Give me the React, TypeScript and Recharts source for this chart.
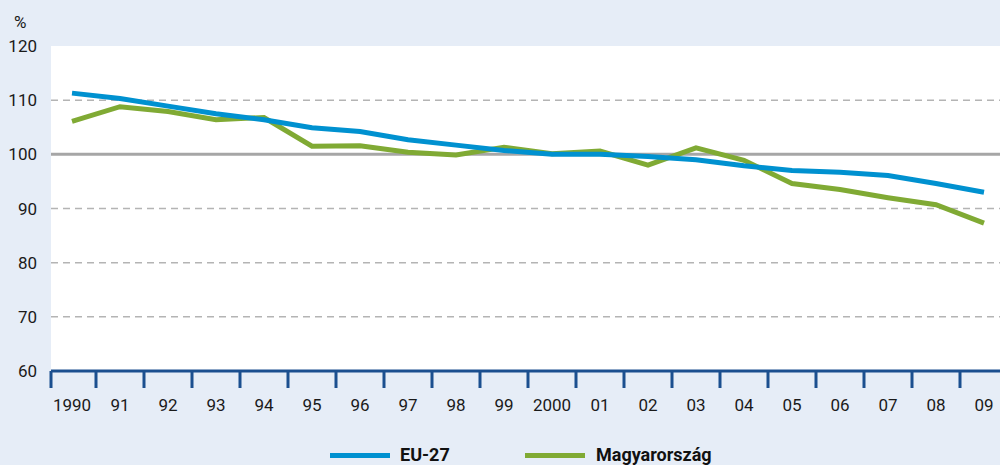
import React from "react";
import {
  LineChart,
  Line,
  XAxis,
  YAxis,
  ReferenceLine,
  ReferenceArea,
  Legend,
} from "recharts";

const years = ["1990", "91", "92", "93", "94", "95", "96", "97", "98", "99", "2000", "01", "02", "03", "04", "05", "06", "07", "08", "09"];
const eu27 = [111.3, 110.3, 108.9, 107.5, 106.4, 104.9, 104.2, 102.7, 101.7, 100.7, 100.0, 100.0, 99.6, 99.0, 97.9, 97.0, 96.7, 96.1, 94.6, 93.0];
const hungary = [106.1, 108.8, 107.9, 106.4, 106.8, 101.5, 101.6, 100.4, 99.9, 101.3, 100.1, 100.6, 98.0, 101.2, 98.9, 94.6, 93.5, 92.0, 90.7, 87.3];
const yTicks = [60, 70, 80, 90, 100, 110, 120];
const dashedLevels = [70, 80, 90, 110];

const data = years.map((y, i) => ({ i, year: y, eu: eu27[i], hu: hungary[i] }));
const labelTicks = years.map((_, i) => i);
const boundaryTicks = years.map((_, i) => i - 0.5);
const allTicks = [...boundaryTicks, ...labelTicks].sort((a, b) => a - b);

const X_START = -0.4375;
const X_END = 19.5;

const FONT = "Roboto, 'Liberation Sans', sans-serif";
const BLUE = "#0091d0";
const GREEN = "#80aa34";
const AXIS = "#1b4f8f";

const XTick = (props: any) => {
  const { x, y, payload } = props;
  const v = payload.value as number;
  if (Math.abs(v - Math.round(v)) > 0.01) {
    const xx = v < 0 ? x + 3 : x;
    return <line x1={xx} x2={xx} y1={y} y2={y + 17} stroke={AXIS} strokeWidth={3} />;
  }
  return (
    <text x={x} y={y + 40} textAnchor="middle" fontFamily={FONT} fontSize={17} fill="#1a1a1a">
      {years[Math.round(v)]}
    </text>
  );
};

const YTick = (props: any) => {
  const { y, payload } = props;
  return (
    <text x={37} y={y + 6} textAnchor="end" fontFamily={FONT} fontSize={17} fill="#1a1a1a">
      {payload.value}
    </text>
  );
};

const LegendContent = () => (
  <div style={{ position: "relative", width: 1000, height: 30, fontFamily: FONT }}>
    <div style={{ position: "absolute", left: 330, top: 12, width: 60, height: 5, background: BLUE }} />
    <div style={{ position: "absolute", left: 400, top: 3, fontSize: 18, fontWeight: "bold", color: "#111" }}>EU-27</div>
    <div style={{ position: "absolute", left: 525, top: 12, width: 60, height: 5, background: GREEN }} />
    <div style={{ position: "absolute", left: 596, top: 3, fontSize: 18, fontWeight: "bold", color: "#111" }}>Magyarország</div>
  </div>
);

export default function App() {
  return (
    <div
      style={{
        position: "absolute",
        left: 0,
        top: 0,
        width: 1000,
        height: 465,
        overflow: "hidden",
        background: "#e6edf7",
      }}
    >
      <div style={{ position: "absolute", left: 14, top: 12, fontFamily: FONT, fontSize: 17, color: "#1a1a1a" }}>%</div>
      <LineChart
        width={1008}
        height={465}
        data={data}
        margin={{ top: 46, right: 0, left: 0, bottom: 34 }}
      >
        <XAxis
          dataKey="i"
          type="number"
          domain={[-0.5, 19.5]}
          ticks={allTicks}
          interval={0}
          allowDecimals
          tickLine={false}
          tickSize={0}
          tickMargin={0}
          axisLine={false}
          tick={<XTick />}
          height={30}
        />
        <YAxis
          type="number"
          domain={[60, 120]}
          ticks={yTicks}
          width={48}
          axisLine={false}
          tickLine={false}
          tick={<YTick />}
        />
        <ReferenceArea x1={X_START} y1={60} y2={120} fill="#ffffff" fillOpacity={1} stroke="none" />
        {dashedLevels.map((v) => (
          <ReferenceLine
            key={v}
            segment={[{ x: X_START, y: v }, { x: X_END, y: v }]}
            stroke="#b4b4b4"
            strokeWidth={1.5}
            strokeDasharray="7 5"
          />
        ))}
        <ReferenceLine segment={[{ x: X_START, y: 100 }, { x: X_END, y: 100 }]} stroke="#a6a6a6" strokeWidth={3} />
        <ReferenceLine segment={[{ x: X_START, y: 60 }, { x: X_END, y: 60 }]} stroke={AXIS} strokeWidth={3} />
        <Line dataKey="hu" stroke={GREEN} strokeWidth={5} dot={false} isAnimationActive={false} strokeLinejoin="miter" />
        <Line dataKey="eu" stroke={BLUE} strokeWidth={5} dot={false} isAnimationActive={false} strokeLinejoin="miter" />
        <Legend
          verticalAlign="bottom"
          content={<LegendContent />}
          wrapperStyle={{ position: "absolute", left: 0, top: 441, width: 1000, bottom: "auto" }}
        />
      </LineChart>
    </div>
  );
}
